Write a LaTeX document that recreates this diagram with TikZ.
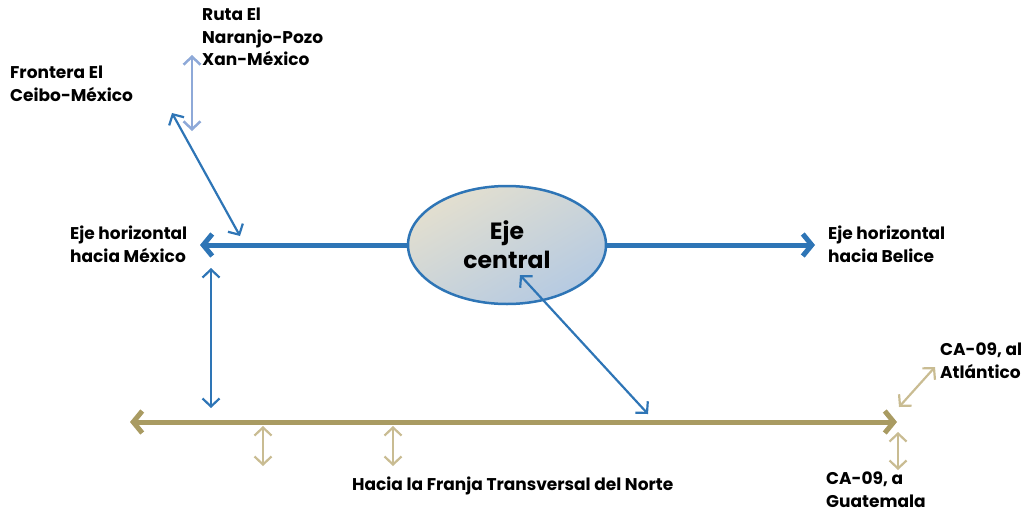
\documentclass[tikz,border=0pt]{standalone}
\usepackage{fontspec}
\setmainfont{Poppins}
\usetikzlibrary{arrows.meta,shapes.geometric}
\definecolor{blu}{HTML}{2E75B6}
\definecolor{lblu}{HTML}{8EA9D8}
\definecolor{gold}{HTML}{A99B62}
\definecolor{lgold}{HTML}{C9BC92}
\definecolor{ebg}{HTML}{E3DFCF}
\definecolor{ebb}{HTML}{B5CAE2}
\tikzset{
  lbl/.style={font=\bfseries\fontsize{17}{22.5}\selectfont, align=left, inner sep=0pt, text=black},
  bigarrow/.style={line width=5pt, -{Straight Barb[length=9pt,width=22pt]}},
  bigdbl/.style={line width=5pt, {Straight Barb[length=9pt,width=22pt]}-{Straight Barb[length=9pt,width=22pt]}},
  thindbl/.style={line width=2.2pt, {Straight Barb[length=8pt,width=17pt]}-{Straight Barb[length=8pt,width=17pt]}},
}
\begin{document}
\begin{tikzpicture}[x=1pt,y=-1pt]
\useasboundingbox (0,0) rectangle (1025,512);
% central ellipse
\node[ellipse, draw=blu, line width=2.5pt, minimum width=198pt, minimum height=118pt, inner sep=0pt,
      top color=ebg, bottom color=ebb, shading angle=30,
      font=\bfseries\fontsize{23.5}{29}\selectfont, align=center] (eje) at (507,245) {Eje\\central};
% labels
\node[lbl, anchor=north west] (lmex) at (70,226) {Eje horizontal\\hacia México};
\node[lbl, anchor=north west] (lbel) at (828,226) {Eje horizontal\\hacia Belice};
\node[lbl, anchor=north west] (lceibo) at (10,66) {Frontera El\\Ceibo-México};
\node[lbl, anchor=north west] (lruta) at (202,8) {Ruta El\\Naranjo-Pozo\\Xan-México};
\node[lbl, anchor=north west] (latl) at (940,343) {CA-09, al\\Atlántico};
\node[lbl, anchor=north west] (lgua) at (826,472) {CA-09, a\\Guatemala};
\node[lbl, anchor=north west] (lfra) at (352,477) {Hacia la Franja Transversal del Norte};
% coordinates
\coordinate (mexTip) at (200,244);
\coordinate (belTip) at (815,241);
\coordinate (rutaT) at (192,55);
\coordinate (rutaB) at (192,131);
\coordinate (ceiboA) at (172,113);
\coordinate (ceiboB) at (240,236);
\coordinate (vA) at (211,268);
\coordinate (vB) at (211,408);
\coordinate (cA) at (520,275);
\coordinate (cB) at (648,414);
\coordinate (gL) at (130,422);
\coordinate (gR) at (897,422);
\coordinate (f1A) at (263,426);
\coordinate (f1B) at (263,466);
\coordinate (f2A) at (393,426);
\coordinate (f2B) at (393,466);
\coordinate (gu1) at (898,432);
\coordinate (gu2) at (898,470);
\coordinate (at1) at (899,407);
\coordinate (at2) at (935,367);
% main axes
\draw[bigarrow, draw=blu] (eje.west) -- (eje.west -| mexTip);
\draw[bigarrow, draw=blu] (eje.east) -- (eje.east -| belTip);
\draw[bigdbl, draw=gold] (gL) -- (gR);
% blue thin arrows
\draw[thindbl, draw=lblu, line width=2.5pt] (rutaT) -- (rutaB);
\draw[thindbl, draw=blu] (ceiboA) -- (ceiboB);
\draw[thindbl, draw=blu] (vA) -- (vB);
\draw[thindbl, draw=blu] (cA) -- (cB);
% gold thin arrows
\draw[thindbl, draw=lgold] (f1A) -- (f1B);
\draw[thindbl, draw=lgold] (f2A) -- (f2B);
\draw[thindbl, draw=lgold] (gu1) -- (gu2);
\draw[thindbl, draw=lgold] (at1) -- (at2);
\end{tikzpicture}
\end{document}
